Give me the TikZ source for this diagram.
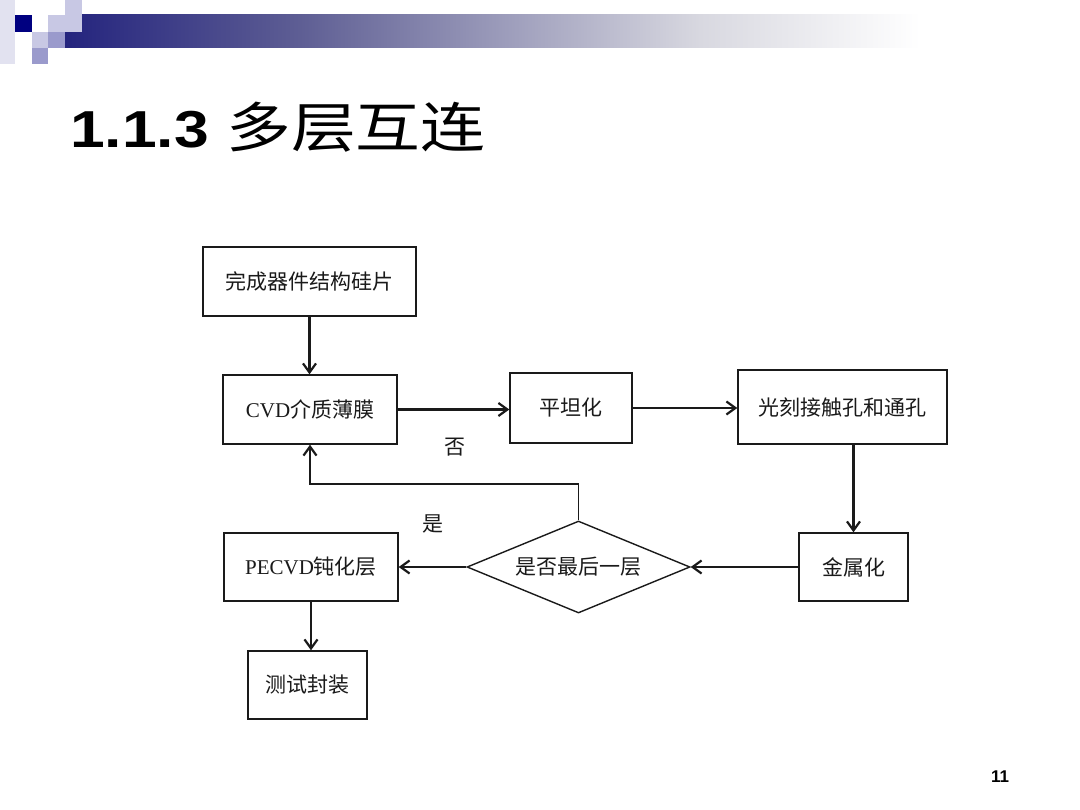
\documentclass[tikz,border=0pt]{standalone}
\usepackage{fontspec}
\setmainfont{Liberation Serif}
\newfontfamily\cjk{Noto Sans CJK SC}
\newfontfamily\titlesans{Liberation Sans}
\usetikzlibrary{shapes.geometric,arrows.meta}
\definecolor{navy}{HTML}{000080}
\definecolor{barA}{HTML}{24247E}
\definecolor{barB}{HTML}{5E5E94}
\definecolor{barC}{HTML}{D8D8E0}
\definecolor{sqlight}{HTML}{C8C8E4}
\definecolor{sqmed}{HTML}{9A9ACC}
\definecolor{sqpale}{HTML}{E2E2F0}
\definecolor{ink}{HTML}{1A1A1A}
\tikzset{
  box/.style={draw=ink, line width=1.4pt, rectangle, inner sep=0pt, font=\fontsize{21}{24}\selectfont, text=ink},
  decision/.style={draw=ink, line width=1.4pt, diamond, shape aspect=2.42, inner sep=0pt, font=\fontsize{21}{24}\selectfont, text=ink},
  flow/.style={draw=ink, line width=2.3pt, -{Straight Barb[length=9pt,width=13pt,line width=2.2pt]}},
  back/.style={draw=ink, line width=1.1pt, -{Straight Barb[length=9pt,width=13pt,line width=2.2pt]}},
  lbl/.style={font=\fontsize{21}{24}\selectfont, text=ink, inner sep=0pt}
}
\begin{document}
\begin{tikzpicture}[x=1pt,y=-1pt]
\useasboundingbox[fill=white] (0,0) rectangle (1080,810);
% header decoration
\shade[left color=barA, right color=barB] (65,15) rectangle (300,48);
\shade[left color=barB, right color=barC] (300,15) rectangle (700,48);
\shade[left color=barC, right color=white] (700,15) rectangle (920,48);
\fill[sqpale] (0,0) rectangle (15,64);
\fill[navy] (15,15) rectangle (32,32);
\fill[sqlight] (32,32) rectangle (48,48);
\fill[sqmed] (32,48) rectangle (48,64);
\fill[sqlight] (48,15) rectangle (65,32);
\fill[sqmed] (48,32) rectangle (65,48);
\fill[sqlight] (65,0) rectangle (82,32);
% title
\node[anchor=base west, inner sep=0pt, text=black] (title) at (70,148)
  {\scalebox{1.2}[1]{\fontsize{52}{58}\selectfont\titlesans\bfseries 1.1.3 {\fontsize{54}{60}\selectfont\cjk\mdseries 多层互连}}};
\node[anchor=base west, inner sep=0pt, text=black] (pg) at (991,782)
  {\fontsize{17}{20}\selectfont\titlesans\bfseries 11};
% flowchart
\node[box, minimum width=213pt, minimum height=69pt] (b1) at (309.5,281.5) {\cjk 完成器件结构硅片};
\node[box, minimum width=174pt, minimum height=69pt] (b2) at (310,409.5) {CVD{\cjk 介质薄膜}};
\node[box, minimum width=122pt, minimum height=70pt] (b3) at (571,408) {\cjk 平坦化};
\node[box, minimum width=209pt, minimum height=74pt] (b4) at (842.5,407) {\cjk 光刻接触孔和通孔};
\node[box, minimum width=109pt, minimum height=68pt] (b5) at (853.5,567) {\cjk 金属化};
\node[decision, minimum width=223pt, minimum height=92pt] (d) at (578.5,567) {\cjk 是否最后一层};
\node[box, minimum width=174pt, minimum height=68pt] (b6) at (311,567) {PECVD{\cjk 钝化层}};
\node[box, minimum width=119pt, minimum height=68pt] (b7) at (307.5,685) {\cjk 测试封装};
\node[lbl] (no) at (455,447) {\cjk 否};
\node[lbl] (yes) at (433,524) {\cjk 是};
\coordinate (k) at (578.5,484);
\draw[flow] (b1.south) -- (b1.south |- b2.north);
\draw[flow] (b2.east) -- (b2.east -| b3.west);
\draw[flow] (b3.east) -- (b3.east -| b4.west);
\draw[flow] (b4.south -| b5.north) -- (b5.north);
\draw[flow] (b5.west) -- (d.east);
\draw[flow] (d.west) -- (b6.east);
\draw[flow] (b6.south) -- (b6.south |- b7.north);
\draw[back] (d.north) -- (k) -| (b2.south);
\end{tikzpicture}
\end{document}
